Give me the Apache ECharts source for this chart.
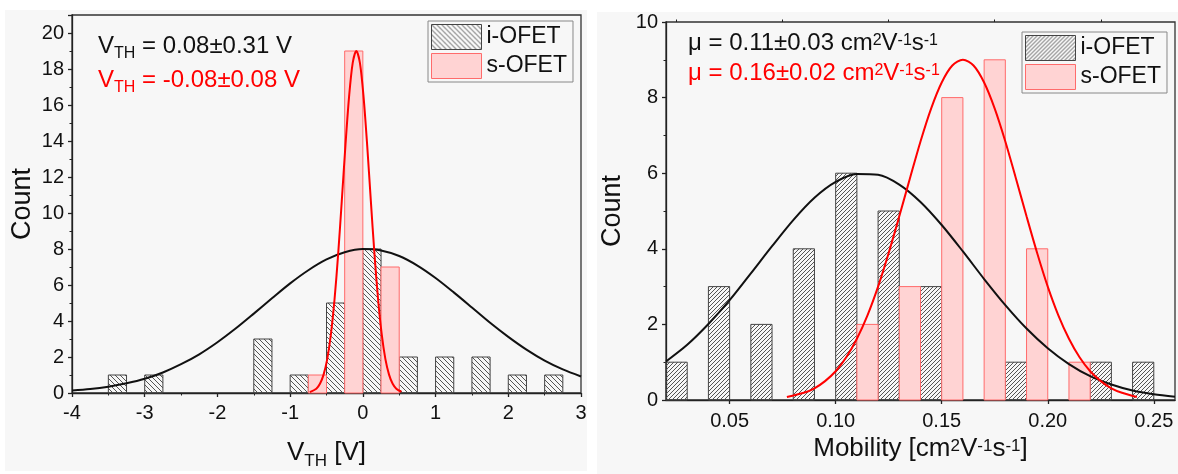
<!DOCTYPE html>
<html>
<head>
<meta charset="utf-8">
<script src="https://cdn.jsdelivr.net/npm/echarts@6.0.0/dist/echarts.min.js"></script>
<style>
  html, body { margin: 0; padding: 0; background: #fff; }
  #chart { width: 1178px; height: 474px; }
</style>
</head>
<body>
<div id="chart"></div>
<script>
// ---- left panel: threshold voltage histogram ----
const vthBinWidth = 0.25
const vthIStart = [-3.5, -3, -1.5, -1, -0.5, 0, 0.5, 1, 1.5, 2, 2.5]
const vthICount = [1, 1, 3, 1, 5, 8, 2, 2, 2, 1, 1]
const vthSStart = [-0.75, -0.25, 0.25]
const vthSCount = [1, 19, 7]
// gaussian fits, points
const vthFitI = [[-4, 0.14], [-3.75, 0.22], [-3.5, 0.35], [-3.25, 0.54], [-3, 0.79], [-2.75, 1.14], [-2.5, 1.6],
  [-2.25, 2.15], [-2, 2.82], [-1.75, 3.58], [-1.5, 4.41], [-1.25, 5.26], [-1, 6.09], [-0.75, 6.82], [-0.5, 7.42],
  [-0.25, 7.82], [0, 8], [0.25, 7.92], [0.5, 7.61], [0.75, 7.08], [1, 6.39], [1.25, 5.59], [1.5, 4.75],
  [1.75, 3.9], [2, 3.12], [2.25, 2.41], [2.5, 1.8], [2.75, 1.31], [3, 0.92]]
const vthFitS = [[-0.73, 0.05], [-0.64, 0.24], [-0.59, 0.51], [-0.54, 1.02], [-0.49, 1.88], [-0.44, 3.24],
  [-0.39, 5.18], [-0.34, 7.7], [-0.29, 10.66], [-0.24, 13.73], [-0.19, 16.44], [-0.14, 18.33], [-0.09, 19],
  [-0.04, 18.33], [0.01, 16.44], [0.06, 13.73], [0.11, 10.66], [0.16, 7.7], [0.21, 5.18], [0.26, 3.24],
  [0.31, 1.88], [0.36, 1.02], [0.41, 0.51], [0.46, 0.24], [0.53, 0.07]]

// ---- right panel: mobility histogram ----
const mobBinWidth = 0.01
const mobIStart = [0.02, 0.04, 0.06, 0.08, 0.10, 0.12, 0.14, 0.18, 0.22, 0.24]
const mobICount = [1, 3, 2, 4, 6, 5, 3, 1, 1, 1]
const mobSStart = [0.11, 0.13, 0.15, 0.17, 0.19, 0.21]
const mobSCount = [2, 3, 8, 9, 4, 1]
const mobFitI = [[0.02, 1.02], [0.03, 1.46], [0.04, 2.01], [0.05, 2.64], [0.06, 3.35], [0.07, 4.07], [0.08, 4.76],
  [0.09, 5.35], [0.10, 5.77], [0.11, 5.98], [0.12, 5.96], [0.13, 5.7], [0.14, 5.24], [0.15, 4.63], [0.16, 3.93],
  [0.17, 3.2], [0.18, 2.51], [0.19, 1.89], [0.20, 1.37], [0.21, 0.95], [0.22, 0.63], [0.23, 0.41], [0.24, 0.25],
  [0.25, 0.15], [0.26, 0.085]]
const mobFitS = [[0.077, 0.08], [0.085, 0.19], [0.09, 0.31], [0.095, 0.5], [0.10, 0.76], [0.105, 1.13], [0.11, 1.62],
  [0.115, 2.24], [0.12, 3.0], [0.125, 3.89], [0.13, 4.86], [0.135, 5.86], [0.14, 6.84], [0.145, 7.71], [0.15, 8.4],
  [0.155, 8.85], [0.16, 9], [0.165, 8.85], [0.17, 8.4], [0.175, 7.71], [0.18, 6.84], [0.185, 5.86], [0.19, 4.86],
  [0.195, 3.89], [0.20, 3.0], [0.205, 2.24], [0.21, 1.62], [0.215, 1.13], [0.22, 0.76], [0.225, 0.5], [0.23, 0.31],
  [0.235, 0.19], [0.242, 0.08]]
const mobTicks = [0.05, 0.10, 0.15, 0.20, 0.25]
const mobMinorTicks = [0.025, 0.075, 0.125, 0.175, 0.225]

const FONT = '"Liberation Sans", Arial, sans-serif'
const RED = '#ff0000'
const INK = '#111'

const makeHatch = (size, dir) => {
  const c = document.createElement('canvas')
  c.width = size
  c.height = size
  const ctx = c.getContext('2d')
  ctx.strokeStyle = '#555'
  ctx.lineWidth = 1
  ctx.beginPath()
  if (dir === 'back') {
    ctx.moveTo(-1, -1); ctx.lineTo(size + 1, size + 1)
    ctx.moveTo(-1, size - 1); ctx.lineTo(1, size + 1)
    ctx.moveTo(size - 1, -1); ctx.lineTo(size + 1, 1)
  } else {
    ctx.moveTo(-1, size + 1); ctx.lineTo(size + 1, -1)
    ctx.moveTo(-1, 1); ctx.lineTo(1, -1)
    ctx.moveTo(size - 1, size + 1); ctx.lineTo(size + 1, size - 1)
  }
  ctx.stroke()
  return { image: c, repeat: 'repeat' }
}

const hatchLeft = makeHatch(5, 'back')
const hatchRight = makeHatch(4, 'fwd')
const PINK = '#ffd3d3'
const PINK_EDGE = '#ff6b6b'

const richText = (size, color) => ({
  m: { fontSize: size, color, fontFamily: FONT, fontWeight: 'normal', verticalAlign: 'bottom', padding: [0, 0, 4, 0] },
  s: { fontSize: Math.round(size * 0.66), color, fontFamily: FONT, fontWeight: 'normal', verticalAlign: 'bottom' },
  p: { fontSize: Math.round(size * 0.66), color, fontFamily: FONT, fontWeight: 'normal', verticalAlign: 'top', padding: [2, 0, 0, 0] }
})

const barSeries = (name, starts, counts, width, axis, fill, stroke) => ({
  type: 'custom',
  name,
  xAxisIndex: axis,
  yAxisIndex: axis,
  data: starts.map((s, i) => [s, s + width, counts[i]]),
  encode: { x: [0, 1], y: 2 },
  renderItem: (params, api) => {
    const tl = api.coord([api.value(0), api.value(2)])
    const br = api.coord([api.value(1), 0])
    return {
      type: 'rect',
      shape: { x: tl[0], y: tl[1], width: br[0] - tl[0], height: br[1] - tl[1] },
      style: { fill, stroke, lineWidth: 1 }
    }
  }
})

const fitSeries = (points, axis, color) => ({
  type: 'line',
  xAxisIndex: axis,
  yAxisIndex: axis,
  data: points,
  smooth: 0.3,
  symbol: 'none',
  lineStyle: { color, width: 2 },
  z: 5
})

const axisBase = {
  type: 'value',
  axisLine: { onZero: false, lineStyle: { color: '#222', width: 1.3 } },
  axisTick: { length: 4, lineStyle: { color: '#222', width: 1.3 } },
  minorTick: { show: true, splitNumber: 2, length: 2.5, lineStyle: { color: '#222', width: 1 } },
  axisLabel: { color: INK, fontSize: 20, fontFamily: FONT },
  splitLine: { show: false },
  minorSplitLine: { show: false }
}

const legendBox = (left, top, hatch) => ({
  left,
  top,
  orient: 'vertical',
  padding: [3, 6, 3, 3],
  itemGap: 3,
  itemWidth: 50,
  itemHeight: 25,
  borderColor: '#888',
  borderWidth: 1,
  textStyle: { fontSize: 23, color: INK, fontFamily: FONT },
  data: [
    { name: 'i-OFET', icon: 'rect', itemStyle: { color: hatch, borderColor: '#444', borderWidth: 1 } },
    { name: 's-OFET', icon: 'rect', itemStyle: { color: PINK, borderColor: PINK_EDGE, borderWidth: 1 } }
  ]
})

const note = (left, top, text, color) => ({
  left,
  top,
  padding: 0,
  text,
  textStyle: { fontWeight: 'normal', fontFamily: FONT, rich: richText(24, color) }
})

const chart = echarts.init(document.getElementById('chart'))
const option = {
  animation: false,
  backgroundColor: '#fff',
  graphic: [
    { type: 'rect', z: -10, shape: { x: 5, y: 10, width: 582, height: 461 }, style: { fill: '#f7f7f7' } },
    { type: 'rect', z: -10, shape: { x: 597, y: 12, width: 581, height: 462 }, style: { fill: '#f7f7f7' } }
  ],
  title: [
    note(98, 34, '{m|V}{s|TH}{m| = 0.08±0.31 V}', INK),
    note(98, 68, '{m|V}{s|TH}{m| = -0.08±0.08 V}', RED),
    note(688, 31, '{m|μ = 0.11±0.03 cm}{p|2}{m|V}{p|-1}{m|s}{p|-1}', INK),
    note(688, 61, '{m|μ = 0.16±0.02 cm}{p|2}{m|V}{p|-1}{m|s}{p|-1}', RED)
  ],
  legend: [legendBox(428, 21, hatchLeft), legendBox(1022, 32, hatchRight)],
  grid: [
    { left: 72, top: 15, width: 509, height: 378, show: true, borderColor: '#333', borderWidth: 1.3, backgroundColor: 'transparent', outerBoundsMode: 'none' },
    { left: 666, top: 22, width: 509, height: 378, show: true, borderColor: '#333', borderWidth: 1.3, backgroundColor: 'transparent', outerBoundsMode: 'none' }
  ],
  xAxis: [
    {
      ...axisBase,
      gridIndex: 0,
      min: -4,
      max: 3,
      interval: 1,
      axisLabel: { ...axisBase.axisLabel, margin: 10 },
      name: '{m|V}{s|TH}{m| [V]}',
      nameLocation: 'middle',
      nameGap: 47,
      nameTextStyle: { rich: richText(26, INK) }
    },
    {
      ...axisBase,
      gridIndex: 1,
      min: 0.02,
      max: 0.26,
      minorTick: { show: false },
      axisTick: { ...axisBase.axisTick, customValues: mobTicks },
      axisLabel: { ...axisBase.axisLabel, margin: 11, customValues: mobTicks, formatter: (v) => v.toFixed(2) },
      name: '{m|Mobility [cm}{p|2}{m|V}{p|-1}{m|s}{p|-1}{m|]}',
      nameLocation: 'middle',
      nameGap: 32,
      nameTextStyle: { rich: richText(26, INK) }
    },
    {
      type: 'value',
      gridIndex: 1,
      min: 0.02,
      max: 0.26,
      axisLine: { show: false, onZero: false },
      axisLabel: { show: false },
      splitLine: { show: false },
      axisTick: { length: 2.5, customValues: mobMinorTicks, lineStyle: { color: '#222', width: 1 } }
    }
  ],
  yAxis: [
    {
      ...axisBase,
      gridIndex: 0,
      min: 0,
      max: 21,
      interval: 2,
      axisLabel: { ...axisBase.axisLabel, showMaxLabel: false },
      name: 'Count',
      nameLocation: 'middle',
      nameRotate: 90,
      nameGap: 36,
      nameTextStyle: { fontSize: 27, color: INK, fontFamily: FONT }
    },
    {
      ...axisBase,
      gridIndex: 1,
      min: 0,
      max: 10,
      interval: 2,
      name: 'Count',
      nameLocation: 'middle',
      nameRotate: 90,
      nameGap: 40,
      nameTextStyle: { fontSize: 27, color: INK, fontFamily: FONT }
    }
  ],
  series: [
    barSeries('i-OFET', vthIStart, vthICount, vthBinWidth, 0, hatchLeft, '#444'),
    barSeries('s-OFET', vthSStart, vthSCount, vthBinWidth, 0, PINK, PINK_EDGE),
    fitSeries(vthFitI, 0, INK),
    fitSeries(vthFitS, 0, RED),
    barSeries('i-OFET', mobIStart, mobICount, mobBinWidth, 1, hatchRight, '#444'),
    barSeries('s-OFET', mobSStart, mobSCount, mobBinWidth, 1, PINK, PINK_EDGE),
    fitSeries(mobFitI, 1, INK),
    fitSeries(mobFitS, 1, RED)
  ]
}
chart.setOption(option)
</script>
</body>
</html>
